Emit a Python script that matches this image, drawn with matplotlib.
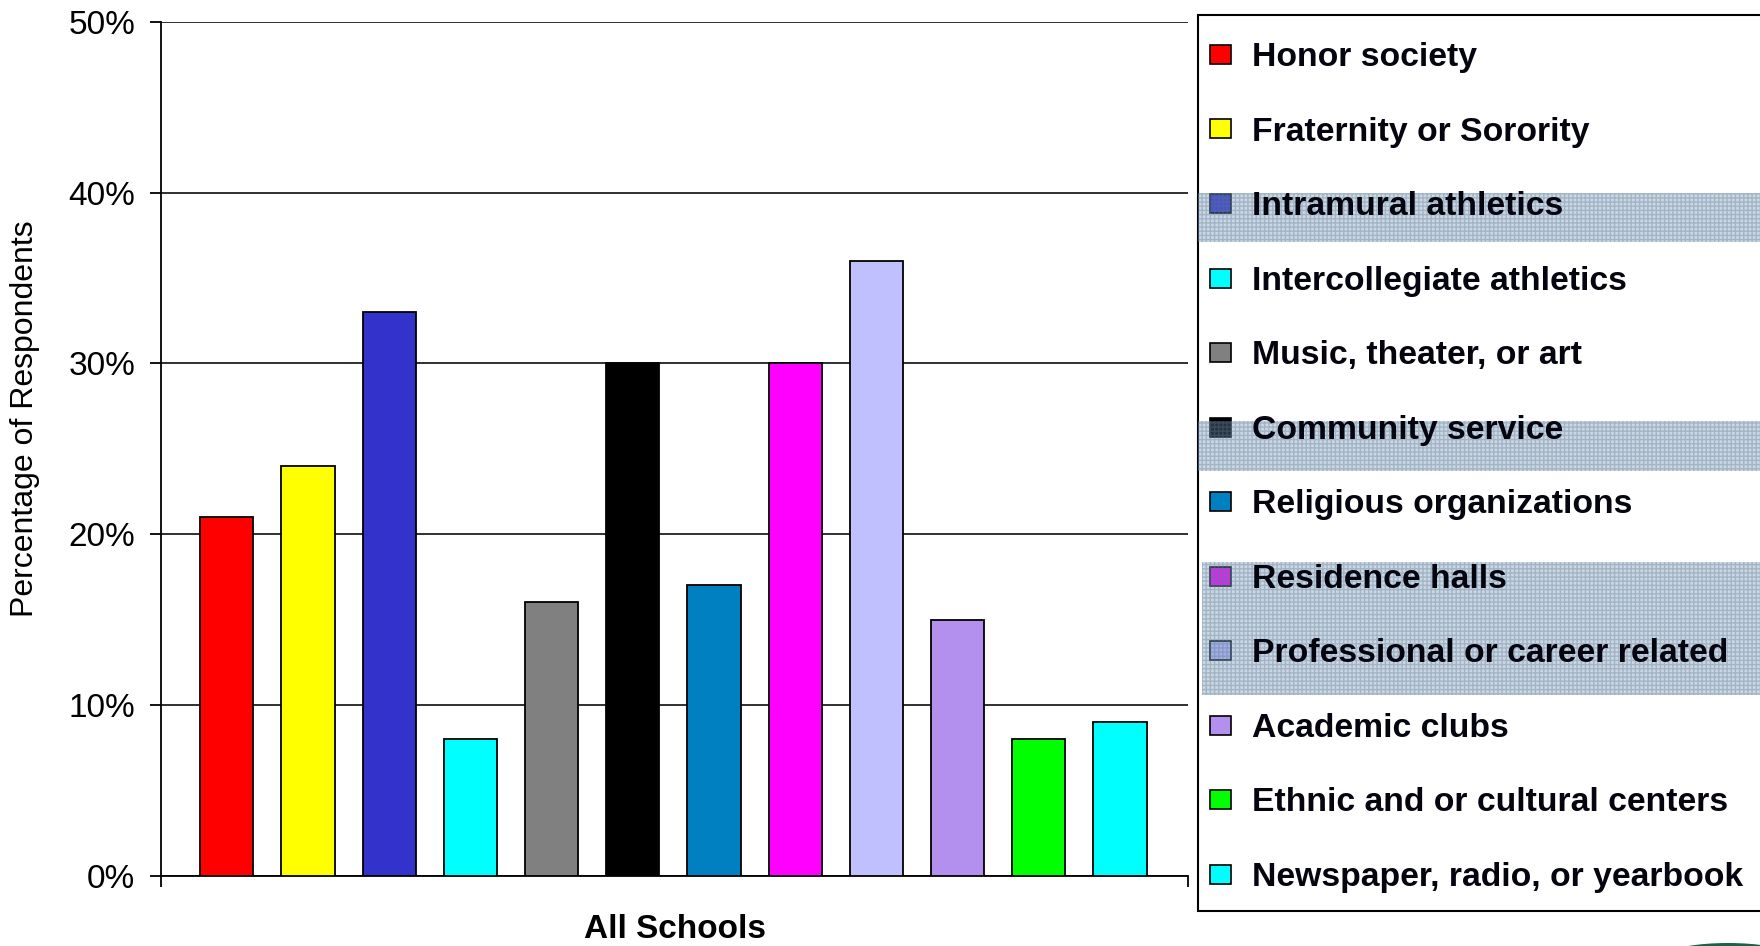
import numpy as np
import matplotlib.pyplot as plt
from matplotlib.patches import Rectangle, Ellipse

plt.rcParams['font.family'] = ['Liberation Sans', 'DejaVu Sans']

# Participation by activity type, all schools combined
activities = [
    'Honor society',
    'Fraternity or Sorority',
    'Intramural athletics',
    'Intercollegiate athletics',
    'Music, theater, or art',
    'Community service',
    'Religious organizations',
    'Residence halls',
    'Professional or career related',
    'Academic clubs',
    'Ethnic and or cultural centers',
    'Newspaper, radio, or yearbook',
]
percent = [21, 24, 33, 8, 16, 30, 17, 30, 36, 15, 8, 9]
colors = ['#FF0000', '#FFFF00', '#3333CC', '#00FFFF', '#808080', '#000000',
          '#0080C0', '#FF00FF', '#C0C0FF', '#B38FEE', '#00FF00', '#00FFFF']
yticks = [0, 10, 20, 30, 40, 50]
group_label = 'All Schools'

W, H = 1760, 946
fig = plt.figure(figsize=(W / 100, H / 100), dpi=100)
ax = fig.add_axes([160.5 / W, 1 - 875.6 / H, 1027 / W, 853.6 / H])

x = np.arange(len(percent))
ax.bar(x, percent, width=0.655, color=colors, edgecolor='black',
       linewidth=1.3, zorder=3)

ax.set_ylim(0, 50)
ax.set_xlim(-0.815, len(percent) - 1 + 0.83)
ax.set_yticks(yticks)
ax.set_yticklabels([f'{t}%' for t in yticks], fontsize=24)
ax.yaxis.grid(True, color='#202020', linewidth=1.3, zorder=0)
ax.set_xticks(ax.get_xlim())
ax.set_xticklabels([])
ax.tick_params(axis='both', direction='out', length=8, width=1.3, color='black')
ax.tick_params(axis='y', pad=10)
for side in ['top', 'right']:
    ax.spines[side].set_visible(False)
for side in ['left', 'bottom']:
    ax.spines[side].set_linewidth(1.3)

fig.text(25 / W, 1 - 419 / H, 'Percentage of Respondents', rotation=90,
         ha='center', va='center', fontsize=23)
fig.text(675 / W, 1 - 929 / H, group_label, ha='center', va='center',
         fontsize=24, fontweight='bold')

# Legend panel drawn in pixel space on an overlay axes
lg = fig.add_axes([0, 0, 1, 1], zorder=5)
lg.set_xlim(0, W)
lg.set_ylim(H, 0)
lg.axis('off')
lg.add_patch(Rectangle((1197.6, 14.6), 700, 896.4, facecolor='white',
                       edgecolor='black', linewidth=1.5, clip_on=False))
row0, step = 55, 74.5
for i, (name, c) in enumerate(zip(activities, colors)):
    yc = row0 + i * step
    lg.add_patch(Rectangle((1210, yc - 10), 21, 19, facecolor=c,
                           edgecolor='black', linewidth=1.2))
    lg.text(1251.5, yc + 2.5, name, fontsize=24.3, fontweight='bold',
            ha='left', va='center', color='#050510')

# Shaded selection bands over some legend rows
for top, bot, left in [(193, 242, 1198), (421, 471, 1198), (562, 695, 1202)]:
    lg.add_patch(Rectangle((left, top), W - left, bot - top,
                           facecolor='#7090b0', alpha=0.36,
                           edgecolor='#5a7896', hatch='++++', linewidth=0))

# Corner of a logo peeking in at the bottom right
lg.add_patch(Ellipse((1728, 953), 110, 20, facecolor='#1f5f4a',
                     edgecolor='none'))

fig.savefig('out.png', dpi=100)
